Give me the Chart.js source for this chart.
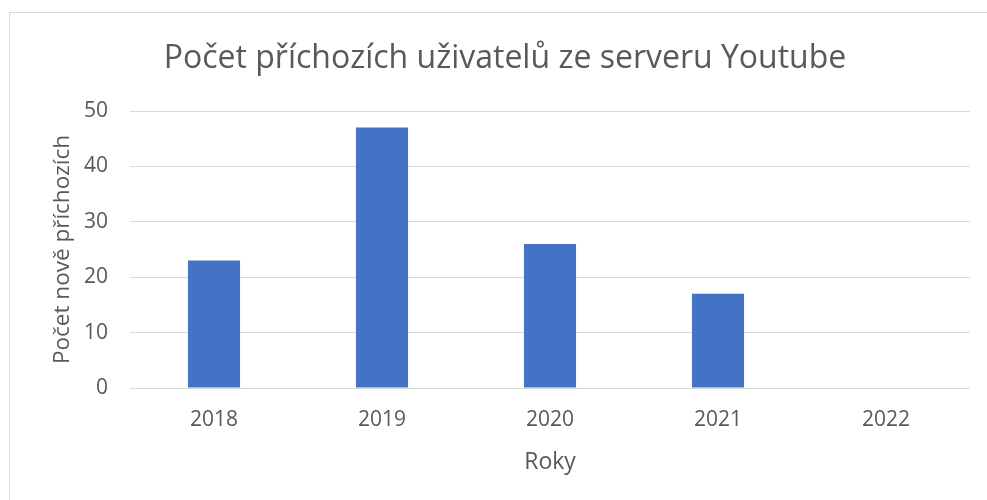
<!DOCTYPE html>
<html>
<head>
<meta charset="utf-8">
<script src="https://cdn.jsdelivr.net/npm/chart.js@4/dist/chart.umd.min.js"></script>
<style>
html,body{margin:0;padding:0;background:#fff;}
#wrap{width:987px;height:500px;position:relative;}
</style>
</head>
<body>
<div id="wrap"><canvas id="c" width="987" height="500"></canvas></div>
<script>
const categories = ["2018", "2019", "2020", "2021", "2022"];
const values = [23, 47, 26, 17, 0];
const chartTitle = "Počet příchozích uživatelů ze serveru Youtube";
const yAxisTitle = "Počet nově příchozích";
const xAxisTitle = "Roky";

const FONT = "'Open Sans', sans-serif";
const TEXT = "#595959";

const borderPlugin = {
  id: 'outerBorder',
  beforeDraw(chart) {
    const ctx = chart.ctx;
    ctx.save();
    ctx.fillStyle = '#fff';
    ctx.fillRect(0, 0, chart.width, chart.height);
    ctx.strokeStyle = '#d9d9d9';
    ctx.lineWidth = 1;
    ctx.strokeRect(9.5, 12.5, 2000, 2000);
    ctx.restore();
  }
};

new Chart(document.getElementById('c'), {
  type: 'bar',
  data: {
    labels: categories,
    datasets: [{
      data: values,
      backgroundColor: '#4472C4',
      categoryPercentage: 0.31,
      barPercentage: 1.0
    }]
  },
  options: {
    responsive: false,
    animation: false,
    devicePixelRatio: 1,
    layout: { padding: { left: 40, right: 17, top: 0, bottom: 24 } },
    plugins: {
      legend: { display: false },
      tooltip: { enabled: false },
      title: {
        display: true,
        text: chartTitle,
        color: TEXT,
        font: { family: FONT, size: 32, weight: 'normal' },
        padding: { top: 40, bottom: 32.6 }
      }
    },
    scales: {
      x: {
        grid: { display: false, drawTicks: false },
        border: { display: false },
        ticks: { color: TEXT, font: { family: FONT, size: 21 }, padding: 19 },
        title: {
          display: true, text: xAxisTitle, color: TEXT,
          font: { family: FONT, size: 23 }, padding: { top: 6, bottom: 0 }
        },
        afterFit(scale) { scale.height = 88; }
      },
      y: {
        min: 0, max: 50,
        ticks: { stepSize: 10, color: TEXT, font: { family: FONT, size: 21 }, padding: 22 },
        grid: { color: '#d9d9d9', lineWidth: 1, drawTicks: false },
        border: { display: false },
        title: {
          display: true, text: yAxisTitle, color: TEXT,
          font: { family: FONT, size: 22.5 }, padding: { top: 9, bottom: 0 }
        },
        afterFit(scale) { scale.width = 90; }
      }
    }
  },
  plugins: [borderPlugin]
});
</script>
</body>
</html>
